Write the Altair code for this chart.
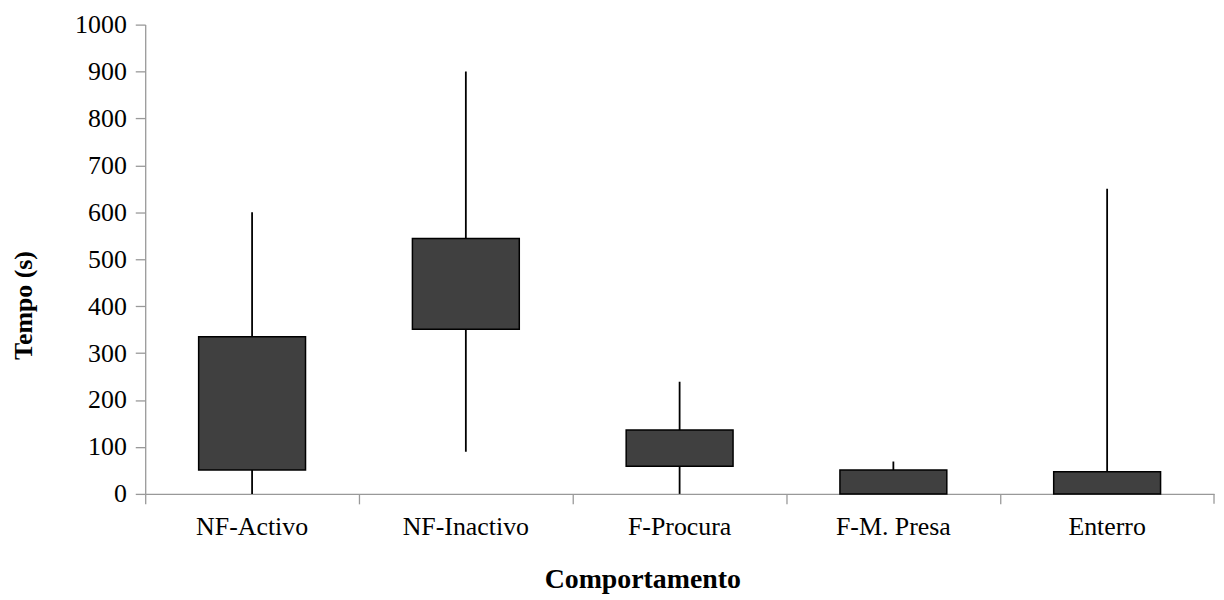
import altair as alt
import pandas as pd

categories = ["NF-Activo", "NF-Inactivo", "F-Procura", "F-M. Presa", "Enterro"]
whisker_low = [0, 90, 0, 0, 0]
box_low = [51, 351, 59, 0, 0]
box_high = [335, 544, 136, 51, 47]
whisker_high = [600, 900, 239, 69, 650]

df = pd.DataFrame({
    "cat": categories,
    "wlo": whisker_low,
    "blo": box_low,
    "bhi": box_high,
    "whi": whisker_high,
})

W = 1075
H = 472
FONT = "Liberation Serif, Times New Roman, serif"
AXIS_GREY = "#999999"

x = alt.X(
    "cat:N",
    sort=categories,
    scale=alt.Scale(paddingInner=0, paddingOuter=0),
    axis=alt.Axis(
        title="Comportamento",
        titleFont=FONT,
        titleFontSize=28,
        titleFontWeight="bold",
        titleColor="black",
        titleX=500,
        titleY=94,
        titleAlign="center",
        titleBaseline="alphabetic",
        labelFont=FONT,
        labelFontSize=26,
        labelColor="black",
        labelAngle=0,
        labelPadding=10,
        bandPosition=0,
        tickSize=10,
        tickColor=AXIS_GREY,
        domainColor=AXIS_GREY,
        domainWidth=1.3,
        tickWidth=1.3,
        labelAlign="center",
        grid=False,
    ),
)

yscale = alt.Scale(domain=[0, 1000], nice=False)
yaxis = alt.Axis(
    title="Tempo (s)",
    titleFont=FONT,
    titleFontSize=26,
    titleFontWeight="bold",
    titleColor="black",
    titleAngle=270,
    titleX=-122,
    titleY=282,
    titleAlign="center",
    titleBaseline="middle",
    labelFont=FONT,
    labelFontSize=26,
    labelColor="black",
    labelPadding=9,
    format="d",
    values=list(range(0, 1001, 100)),
    tickSize=10,
    tickColor=AXIS_GREY,
    domainColor=AXIS_GREY,
    domainWidth=1.3,
    tickWidth=1.3,
    grid=False,
)

base = alt.Chart(df)

whiskers = base.mark_rule(color="black", strokeWidth=1.8).encode(
    x=x,
    y=alt.Y("wlo:Q", scale=yscale, axis=yaxis),
    y2="whi:Q",
)

boxes = base.mark_bar(
    fill="#404040", stroke="black", strokeWidth=1.5, width={"band": 0.5}
).encode(
    x=x,
    y=alt.Y("blo:Q", scale=yscale, axis=yaxis),
    y2="bhi:Q",
)

end_tick = alt.Chart(pd.DataFrame({"a": [0]})).mark_rule(
    color=AXIS_GREY, strokeWidth=1.3
).encode(
    x=alt.value(W),
    y=alt.value(H),
    y2=alt.value(H + 10),
)

chart = alt.layer(whiskers, boxes, end_tick).properties(
    width=W,
    height=H,
    padding={"left": 138, "top": 15, "right": 2, "bottom": 104},
    autosize=alt.AutoSizeParams(type="none"),
).configure_view(stroke=None)

chart.save("out.html", embed_options={"renderer": "svg", "actions": False})
